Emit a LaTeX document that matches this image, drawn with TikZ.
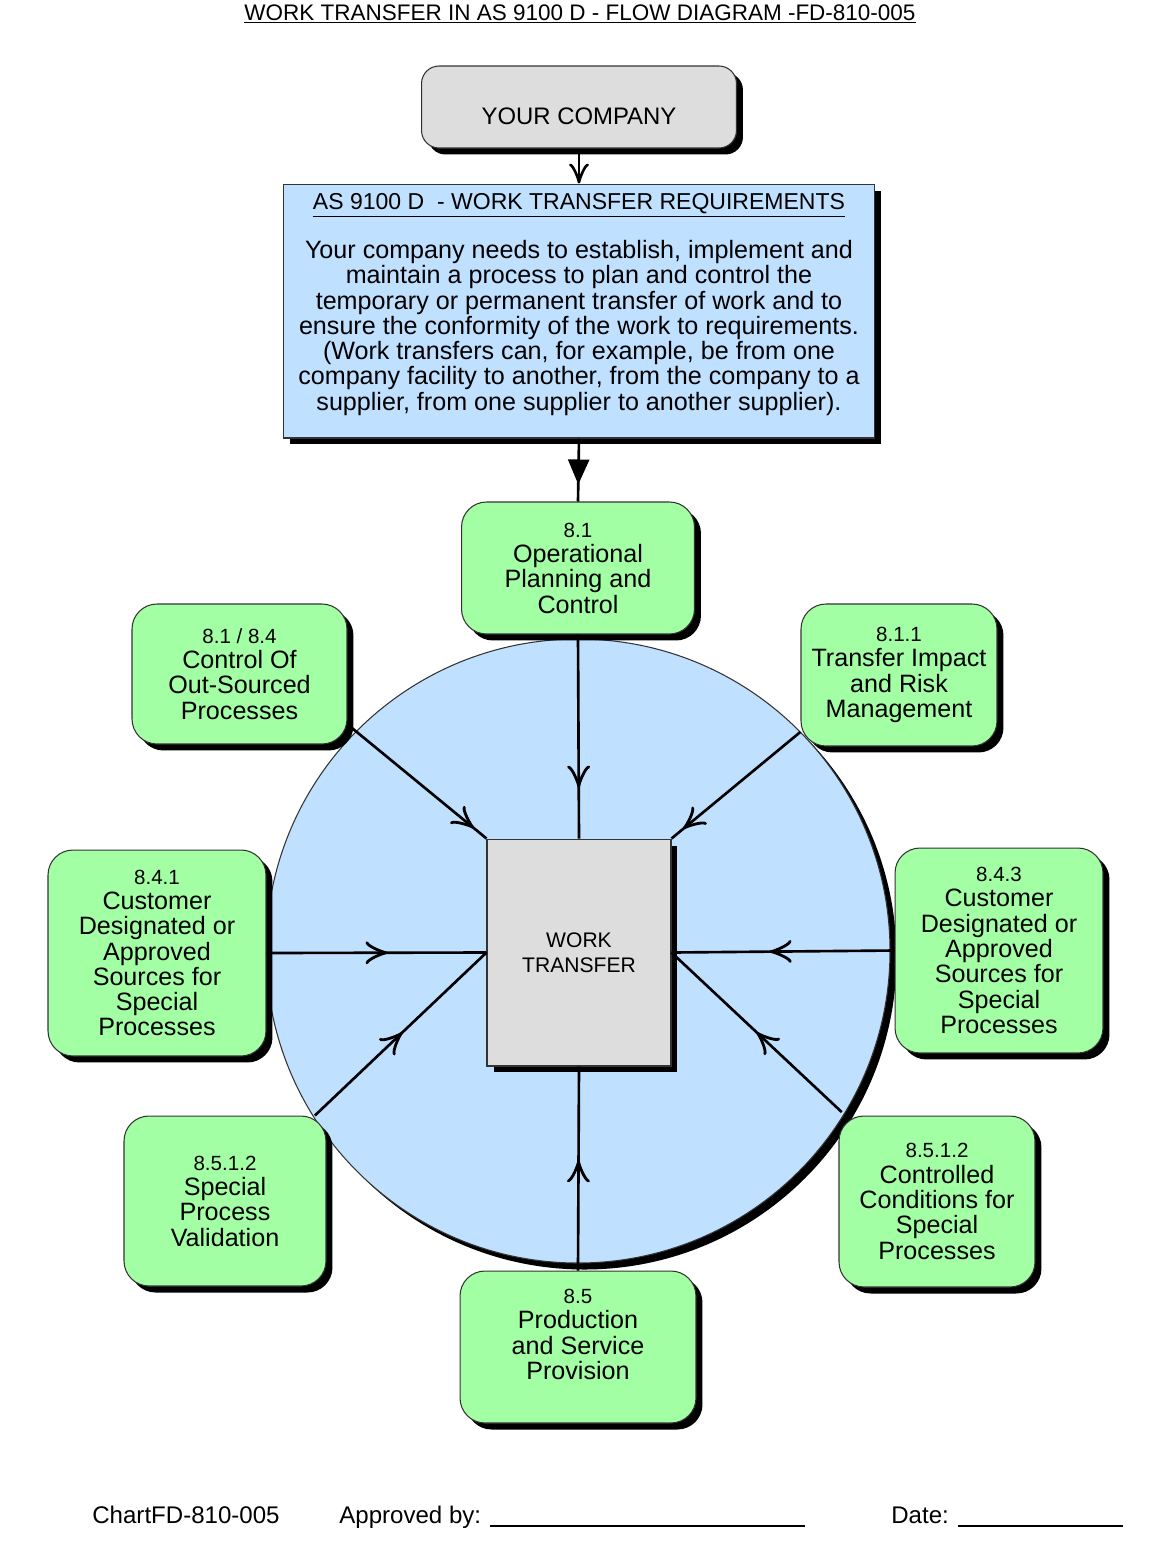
\documentclass[tikz,border=0pt]{standalone}
\usepackage{fontspec}
\setmainfont{Liberation Sans}
\usepackage{xcolor}
\usetikzlibrary{arrows.meta, shadows, decorations.markings}

\definecolor{boxgreen}{RGB}{163,255,163}
\definecolor{discblue}{RGB}{192,224,255}
\definecolor{boxgray}{RGB}{221,221,221}

\tikzstyle{shadowed} = [drop shadow={shadow xshift=0.13cm, shadow yshift=-0.13cm, fill=black, opacity=1}]
\tikzstyle{process} = [draw=black!80, line width=0.6pt, fill=boxgreen, rounded corners=0.5cm, align=center, inner sep=2pt, font=\fontsize{14.3}{14.4}\selectfont, shadowed]
\tikzstyle{company} = [draw=black!80, line width=0.6pt, fill=boxgray, rounded corners=0.35cm, text height=0.7cm, text depth=0cm, font=\fontsize{13.6}{15}\selectfont, shadowed]
\tikzstyle{reqbox} = [draw=black!80, line width=0.6pt, fill=discblue, align=center, font=\fontsize{14.3}{14.4}\selectfont, shadowed]
\tikzstyle{workbox} = [draw=black!80, line width=0.6pt, fill=boxgray, align=center, font=\fontsize{12}{14.2}\selectfont, shadowed]
\tikzstyle{disc} = [draw=black!80, line width=0.6pt, fill=discblue, shadowed]
\tikzstyle{arrow} = [line width=1.5pt]
\tikzset{midarrow/.style={decoration={markings, mark=at position #1 with {\arrow{Classical TikZ Rightarrow[length=0.44cm,width=0.46cm,line width=1.6pt]}}}, postaction={decorate}}}

\newcommand{\clauseno}[1]{{\fontsize{11.7}{14.4}\selectfont #1}}

\begin{document}
\begin{tikzpicture}[x=0.02cm, y=-0.02cm]
	\useasboundingbox (0,0) rectangle (1158,1546);
	
	% Title:
	\node[anchor=base, inner sep=0pt, font=\fontsize{12.8}{15}\selectfont] (title) at (580,20) {\underline{WORK TRANSFER IN AS 9100 D - FLOW DIAGRAM -FD-810-005}};
	
	% Disc:
	% Sits behind the clause boxes, so it is drawn first
	\draw[disc] (578,951) circle[radius=312];
	
	% Company and requirements:
	\node[company, minimum width=6.3cm, minimum height=1.64cm] (yc) at (579,107) {YOUR COMPANY};
	\node[reqbox, minimum width=11.84cm, minimum height=5.08cm] (req) at (579,311) {{\fontsize{13.1}{14.4}\selectfont\underline{AS 9100 D\ \ - WORK TRANSFER REQUIREMENTS}}\\[12pt]
		Your company needs to establish, implement and\\
		maintain a process to plan and control the\\
		temporary or permanent transfer of work and to\\
		ensure the conformity of the work to requirements.\\
		(Work transfers can, for example, be from one\\
		company facility to another, from the company to a\\
		supplier, from one supplier to another supplier).\\[-4pt]~};
	
	% Centre:
	\node[workbox, minimum width=3.68cm, minimum height=4.54cm] (wt) at (579,952.5) {WORK\\TRANSFER};
	
	% Clause boxes round the disc:
	\node[process, minimum width=4.66cm, minimum height=2.64cm] (s81) at (578,568) {\clauseno{8.1}\\Operational\\Planning and\\Control};
	\node[process, minimum width=4.3cm, minimum height=2.8cm] (oso) at (239.5,674) {\clauseno{8.1 / 8.4}\\Control Of\\Out-Sourced\\Processes};
	\node[process, minimum width=3.92cm, minimum height=2.84cm] (trm) at (899,675) {\clauseno{8.1.1}\\Transfer Impact\\and Risk\\Management};
	\node[process, minimum width=4.36cm, minimum height=4.12cm] (cd1) at (157,953) {\clauseno{8.4.1}\\Customer\\Designated or\\Approved\\Sources for\\Special\\Processes};
	\node[process, minimum width=4.16cm, minimum height=4.1cm] (cd3) at (999,950.5) {\clauseno{8.4.3}\\Customer\\Designated or\\Approved\\Sources for\\Special\\Processes};
	\node[process, minimum width=4.04cm, minimum height=3.4cm] (spv) at (225,1201) {\clauseno{8.5.1.2}\\Special\\Process\\Validation};
	\node[process, minimum width=3.92cm, minimum height=3.42cm] (ccs) at (937,1201.5) {\clauseno{8.5.1.2}\\Controlled\\Conditions for\\Special\\Processes};
	\node[process, minimum width=4.72cm, minimum height=3.04cm] (s85) at (578,1347) {\clauseno{8.5}\\Production\\and Service\\Provision\\~};
	
	% Connectors:
	\draw[arrow, -{Classical TikZ Rightarrow[length=0.4cm,width=0.4cm,line width=1.5pt]}] (yc.south) -- (req.north);
	\draw[arrow, decoration={markings, mark=at position 0.73 with {\arrow{Triangle[length=0.5cm,width=0.42cm]}}}, postaction={decorate}] (req.south) -- (s81.north);
	
	\begin{scope}[arrow]
		\draw[midarrow=0.75] (s81.south) -- (wt.north);
		\draw[midarrow=0.91] (oso.-25) -- (wt.north west);
		\draw[midarrow=0.91] (trm.210) -- (wt.north east);
		\draw[midarrow=0.55] (cd1.east) -- (wt.west);
		\draw[midarrow=0.56] (cd3.west) -- (wt.east);
		\draw[midarrow=0.51] (spv) -- (wt.west);
		\draw[midarrow=0.51, shorten <=0.1cm] (ccs) -- (wt.east);
		\draw[midarrow=0.54] (s85.north) -- (wt.south);
	\end{scope}
	
	% Footer:
	\begin{scope}[inner sep=0pt, font=\fontsize{13.7}{15}\selectfont]
		\node[anchor=base west] (chart) at (92,1523) {ChartFD-810-005};
		\node[anchor=base west] (approved) at (339,1523) {Approved by: \rule[-2pt]{6.3cm}{0.6pt}};
		\node[anchor=base west] (date) at (891,1523) {Date: \rule[-2pt]{3.3cm}{0.6pt}};
	\end{scope}
	
\end{tikzpicture}
\end{document}
